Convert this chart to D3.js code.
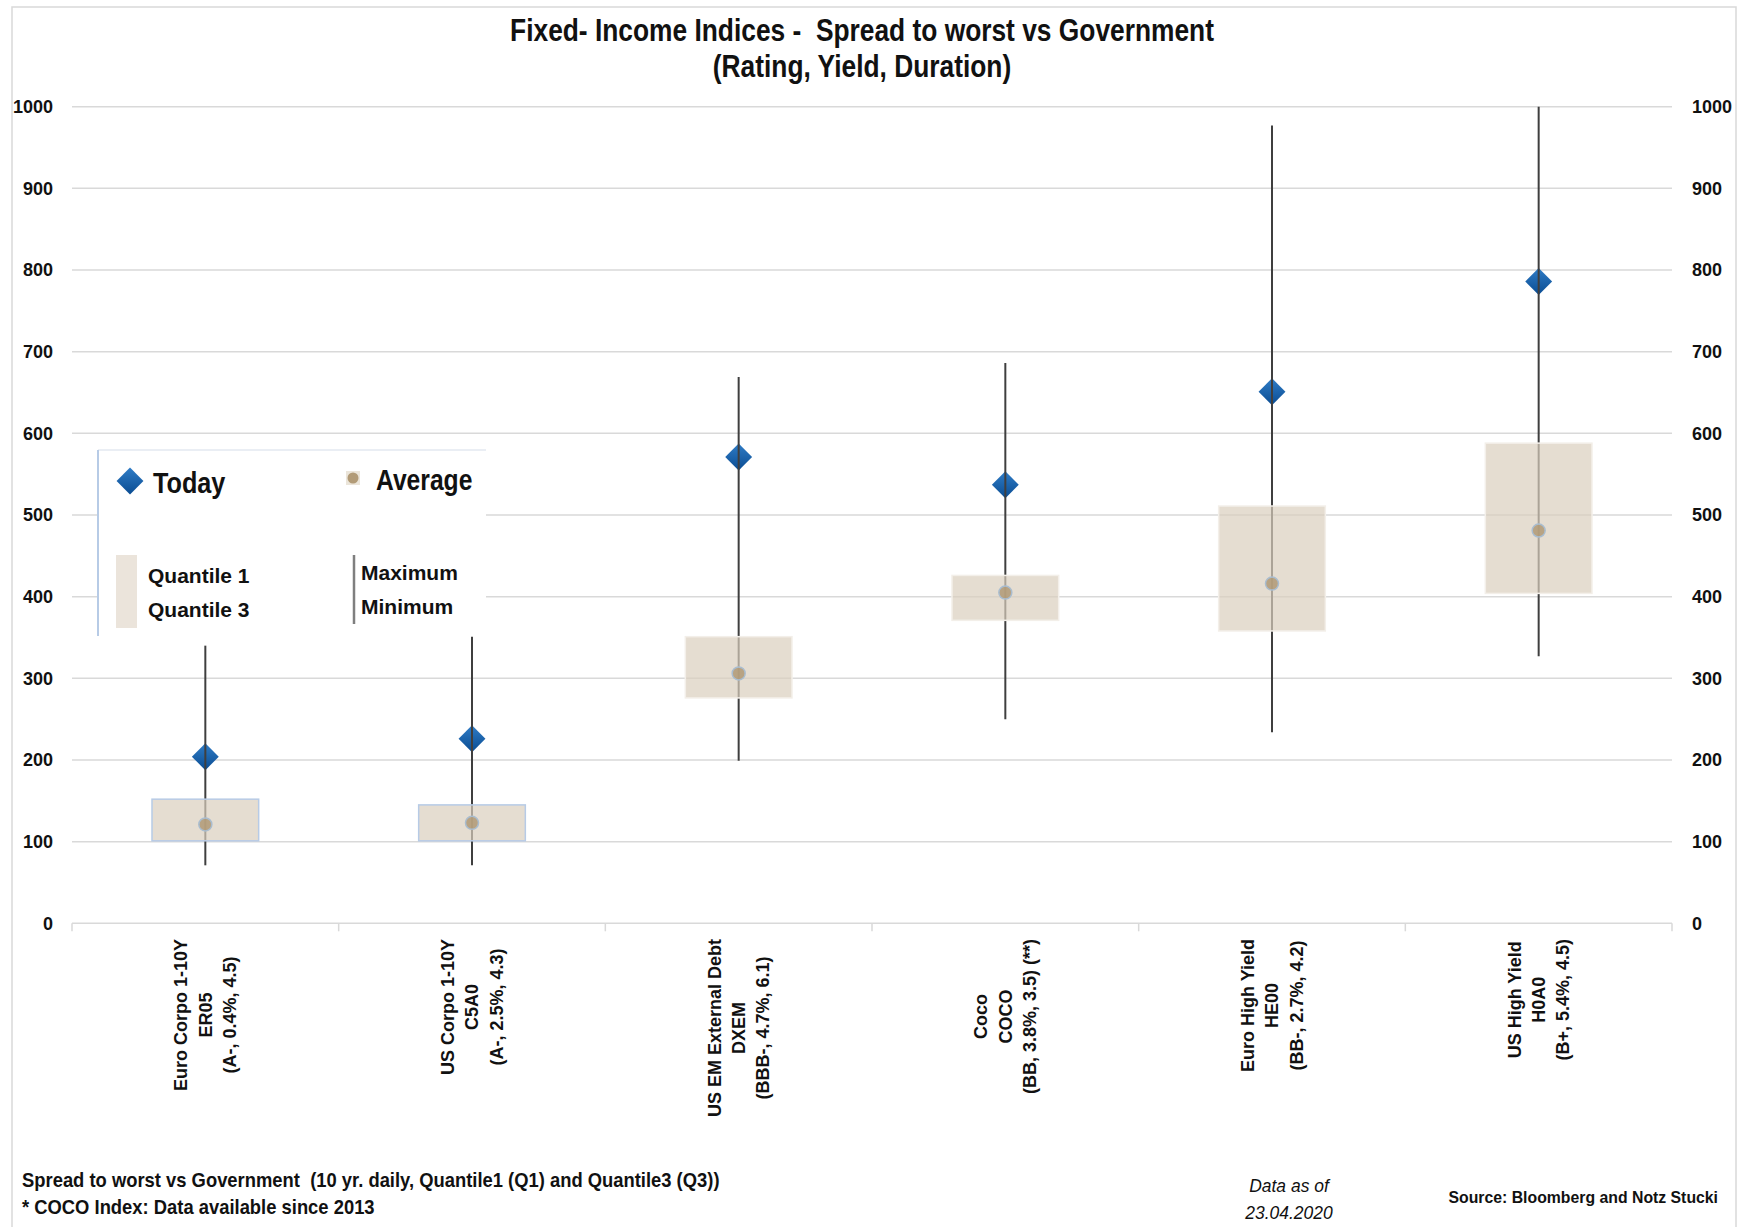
<!DOCTYPE html>
<html>
<head>
<meta charset="utf-8">
<script src="https://cdn.jsdelivr.net/npm/d3@7"></script>
<style>
  html, body { margin: 0; padding: 0; background: #fff; }
  svg { display: block; }
  .sans { font-family: "Liberation Sans", Arial, sans-serif; font-weight: bold; }
  text { white-space: pre; }
</style>
</head>
<body>
<svg id="chart" width="1742" height="1227"></svg>
<script>
// Index labels (name, ticker, rating/yield/duration)
const categories = [
  ["Euro Corpo 1-10Y", "ER05", "(A-, 0.4%, 4.5)"],
  ["US Corpo 1-10Y", "C5A0", "(A-, 2.5%, 4.3)"],
  ["US EM External Debt", "DXEM", "(BBB-, 4.7%, 6.1)"],
  ["Coco", "COCO", "(BB, 3.8%, 3.5) (**)"],
  ["Euro High Yield", "HE00", "(BB-, 2.7%, 4.2)"],
  ["US High Yield", "H0A0", "(B+, 5.4%, 4.5)"]
];
// Spread to worst vs government, bp
const today    = [204, 226, 571, 537, 651, 786];
const average  = [121, 123, 306, 405, 416, 481];
const quantile1 = [101, 101, 276, 371, 358, 404];
const quantile3 = [152, 145, 351, 426, 511, 588];
const minimum  = [71, 71, 199, 250, 234, 327];
const maximum  = [340, 351, 669, 686, 977, 1000];
const yTicks = [0, 100, 200, 300, 400, 500, 600, 700, 800, 900, 1000];

const svg = d3.select("#chart");
const plot = { left: 72, right: 1672, top: 106.7, bottom: 923.3 };

const x = d3.scaleBand().domain(d3.range(categories.length)).range([plot.left, plot.right]).padding(0);
const y = d3.scaleLinear().domain([0, 1000]).range([plot.bottom, plot.top]);
const boxW = x.bandwidth() * 0.4;

// condensed text: regular face squeezed horizontally around its anchor
function condensed(parent, str, px, py, size, sx, anchor = "start", italic = false) {
  return parent.append("text")
    .attr("class", "sans")
    .style("font-weight", italic ? "normal" : "bold")
    .style("font-style", italic ? "italic" : "normal")
    .attr("font-size", size)
    .attr("text-anchor", anchor)
    .attr("fill", "#111")
    .attr("transform", `translate(${px},${py}) scale(${sx},1)`)
    .text(str);
}

// outer frame
svg.append("rect").attr("x", 12).attr("y", 7).attr("width", 1724).attr("height", 1240)
  .attr("fill", "none").attr("stroke", "#d9d9d9").attr("stroke-width", 1.5);

// title
condensed(svg, "Fixed- Income Indices -  Spread to worst vs Government", 862, 41, 31, 0.85, "middle");
condensed(svg, "(Rating, Yield, Duration)", 862, 77, 31, 0.85, "middle");

// gridlines
svg.append("g").selectAll("line").data(yTicks.filter(d => d > 0)).join("line")
  .attr("x1", plot.left).attr("x2", plot.right)
  .attr("y1", d => y(d)).attr("y2", d => y(d))
  .attr("stroke", "#d9d9d9").attr("stroke-width", 1.5);

// category axis baseline with separators
svg.append("line").attr("x1", plot.left).attr("x2", plot.right)
  .attr("y1", y(0)).attr("y2", y(0)).attr("stroke", "#d9d9d9").attr("stroke-width", 1.5);
const bounds = d3.range(categories.length + 1).map(i => i < categories.length ? x(i) : plot.right);
svg.append("g").selectAll("line").data(bounds).join("line")
  .attr("x1", d => d).attr("x2", d => d)
  .attr("y1", y(0)).attr("y2", y(0) + 8)
  .attr("stroke", "#d9d9d9").attr("stroke-width", 1.5);

// value axes on both sides
const fmt = d3.format("d");
const yLeft = svg.append("g").attr("transform", `translate(53,0)`)
  .call(d3.axisLeft(y).tickValues(yTicks).tickFormat(fmt).tickSize(0).tickPadding(0));
const yRight = svg.append("g").attr("transform", `translate(1692,0)`)
  .call(d3.axisRight(y).tickValues(yTicks).tickFormat(fmt).tickSize(0).tickPadding(0));
[yLeft, yRight].forEach(g => {
  g.select(".domain").remove();
  g.selectAll("text").attr("class", "sans").attr("font-size", 18).attr("fill", "#111");
});

// diamond gradient
const defs = svg.append("defs");
const grad = defs.append("linearGradient").attr("id", "dia").attr("x1", "0").attr("y1", "0").attr("x2", "1").attr("y2", "1");
grad.append("stop").attr("offset", "0%").attr("stop-color", "#2f7cc6");
grad.append("stop").attr("offset", "100%").attr("stop-color", "#0a4c92");

const idx = d3.range(categories.length);
const cx = i => x(i) + x.bandwidth() / 2;
const diamond = d3.symbol().type(d3.symbolSquare).size(19 * 19);

// today markers
svg.append("g").selectAll("path").data(idx).join("path")
  .attr("d", diamond)
  .attr("transform", i => `translate(${cx(i)},${y(today[i])}) rotate(45)`)
  .attr("fill", "url(#dia)");

// min-max whiskers
svg.append("g").selectAll("line").data(idx).join("line")
  .attr("x1", cx).attr("x2", cx)
  .attr("y1", i => y(maximum[i])).attr("y2", i => y(minimum[i]))
  .attr("stroke", "#3f3f3f").attr("stroke-width", 2);

// quantile boxes
svg.append("g").selectAll("rect").data(idx).join("rect")
  .attr("x", i => cx(i) - boxW / 2).attr("width", boxW)
  .attr("y", i => y(quantile3[i])).attr("height", i => y(quantile1[i]) - y(quantile3[i]))
  .attr("fill", "#dacebd").attr("fill-opacity", 0.7)
  .attr("stroke", i => i < 2 ? "#b7cbe6" : "#f3efe9").attr("stroke-width", 1.5);

// averages
svg.append("g").selectAll("circle").data(idx).join("circle")
  .attr("cx", cx).attr("cy", i => y(average[i])).attr("r", 6.5)
  .attr("fill", "#b29b77").attr("fill-opacity", 0.88)
  .attr("stroke", "#a9bdd0").attr("stroke-width", 1.5);

// category labels, rotated and top aligned under the axis
const labelTop = 939;
idx.forEach(i => {
  const g = svg.append("g").attr("transform", `translate(${cx(i)},${labelTop}) rotate(-90)`);
  const texts = categories[i].map((t, k) => g.append("text").attr("class", "sans")
    .attr("font-size", 18).attr("fill", "#111").attr("text-anchor", "middle")
    .attr("y", (k - 1) * 24.4).attr("dy", "0.35em").text(t));
  const maxW = d3.max(texts, t => t.node().getComputedTextLength());
  texts.forEach(t => t.attr("x", -maxW / 2));
});

// legend
const lg = svg.append("g");
lg.append("rect").attr("x", 98).attr("y", 450).attr("width", 388).attr("height", 186).attr("fill", "#fff");
lg.append("line").attr("x1", 98).attr("x2", 486).attr("y1", 450).attr("y2", 450).attr("stroke", "#e3e8f0").attr("stroke-width", 1.5);
lg.append("line").attr("x1", 98).attr("x2", 98).attr("y1", 450).attr("y2", 636).attr("stroke", "#b7cbe6").attr("stroke-width", 2);
lg.append("path").attr("d", diamond).attr("transform", "translate(130,481) rotate(45)").attr("fill", "url(#dia)");
condensed(lg, "Today", 153, 493, 29, 0.87);
lg.append("rect").attr("x", 346).attr("y", 471).attr("width", 14).attr("height", 14).attr("fill", "#ebe5da");
lg.append("circle").attr("cx", 353).attr("cy", 478).attr("r", 5.5).attr("fill", "#b29b77");
condensed(lg, "Average", 376, 490, 29, 0.85);
lg.append("rect").attr("x", 116).attr("y", 555).attr("width", 21).attr("height", 73).attr("fill", "#dacebd").attr("fill-opacity", 0.55);
lg.append("text").attr("class", "sans").attr("font-size", 21).attr("x", 148).attr("y", 583).attr("fill", "#111").text("Quantile 1");
lg.append("text").attr("class", "sans").attr("font-size", 21).attr("x", 148).attr("y", 617).attr("fill", "#111").text("Quantile 3");
lg.append("line").attr("x1", 354).attr("x2", 354).attr("y1", 555).attr("y2", 624).attr("stroke", "#7f7f7f").attr("stroke-width", 2.5);
lg.append("text").attr("class", "sans").attr("font-size", 21).attr("x", 361).attr("y", 580).attr("fill", "#111").text("Maximum");
lg.append("text").attr("class", "sans").attr("font-size", 21).attr("x", 361).attr("y", 614).attr("fill", "#111").text("Minimum");

// footer notes
condensed(svg, "Spread to worst vs Government  (10 yr. daily, Quantile1 (Q1) and Quantile3 (Q3))", 22, 1187, 20, 0.92);
condensed(svg, "* COCO Index: Data available since 2013", 22, 1214, 20, 0.92);
condensed(svg, "Data as of", 1289, 1192, 19, 0.92, "middle", true);
condensed(svg, "23.04.2020", 1289, 1219, 19, 0.92, "middle", true);
condensed(svg, "Source: Bloomberg and Notz Stucki", 1718, 1203, 17, 0.93, "end");
</script>
</body>
</html>
